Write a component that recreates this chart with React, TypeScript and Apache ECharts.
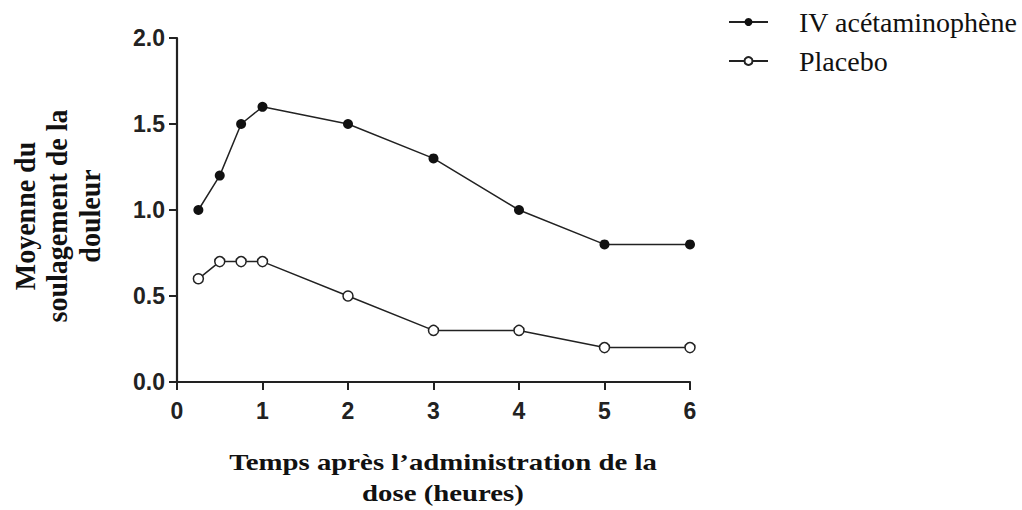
import React, { useEffect, useRef } from "react";
import * as echarts from "echarts";

const hours = [0.25, 0.5, 0.75, 1, 2, 3, 4, 5, 6];
const ivAcetaminophen = [1.0, 1.2, 1.5, 1.6, 1.5, 1.3, 1.0, 0.8, 0.8];
const placebo = [0.6, 0.7, 0.7, 0.7, 0.5, 0.3, 0.3, 0.2, 0.2];
const seriesNames = ["IV acétaminophène", "Placebo"];
const xTitle = "Temps après l’administration de la\ndose (heures)";
const yTitle = "Moyenne du\nsoulagement de la\ndouleur";

const SERIF = "'Liberation Serif', 'Times New Roman', serif";
const SANS = "'Liberation Sans', Arial, sans-serif";

export default function App() {
  const ref = useRef<HTMLDivElement>(null);
  useEffect(() => {
    const chart = echarts.init(ref.current!, null, { renderer: "svg" });
    const axisLabel = {
      fontFamily: SANS,
      fontWeight: "bold",
      fontSize: 23,
      color: "#222",
    };
    const axisLine = { show: true, lineStyle: { color: "#222", width: 2.2 } };
    const axisTick = { show: true, length: 8, lineStyle: { color: "#222", width: 2 } };
    chart.setOption({
      animation: false,
      backgroundColor: "#fff",
      grid: { left: 177, right: 332, top: 38, bottom: 128, containLabel: false },
      legend: {
        left: 723,
        top: 3,
        orient: "vertical",
        itemWidth: 39,
        itemHeight: 10,
        itemGap: 11,
        textStyle: {
          fontFamily: SERIF,
          fontSize: 28,
          lineHeight: 28,
          color: "#111",
          padding: [0, 0, 0, 26],
        },
        data: seriesNames,
      },
      xAxis: {
        type: "value",
        min: 0,
        max: 6,
        interval: 1,
        axisLine,
        axisTick,
        splitLine: { show: false },
        axisLabel: { ...axisLabel, margin: 17 },
      },
      yAxis: {
        type: "value",
        min: 0,
        max: 2,
        interval: 0.5,
        axisLine,
        axisTick,
        splitLine: { show: false },
        axisLabel: { ...axisLabel, margin: 12, formatter: (v: number) => v.toFixed(1) },
      },
      graphic: [
        {
          type: "text",
          x: 443,
          y: 477,
          scaleX: 1.2,
          style: {
            text: xTitle,
            fontFamily: SERIF,
            fontWeight: "bold",
            fontSize: 24,
            lineHeight: 31,
            fill: "#111",
            align: "center",
            verticalAlign: "middle",
          },
        },
        {
          type: "text",
          x: 57,
          y: 216,
          rotation: Math.PI / 2,
          scaleY: 1.05,
          style: {
            text: yTitle,
            fontFamily: SERIF,
            fontWeight: "bold",
            fontSize: 28,
            lineHeight: 31,
            fill: "#111",
            align: "center",
            verticalAlign: "middle",
          },
        },
      ],
      series: [
        {
          name: seriesNames[0],
          type: "line",
          data: hours.map((h, i) => [h, ivAcetaminophen[i]]),
          symbol: "circle",
          symbolSize: 10,
          showAllSymbol: true,
          itemStyle: { color: "#111" },
          lineStyle: { color: "#222", width: 1.5 },
        },
        {
          name: seriesNames[1],
          type: "line",
          data: hours.map((h, i) => [h, placebo[i]]),
          symbol: "circle",
          symbolSize: 10,
          showAllSymbol: true,
          itemStyle: { color: "#fff", borderColor: "#222", borderWidth: 1.5 },
          lineStyle: { color: "#222", width: 1.5 },
        },
      ],
    });
    return () => chart.dispose();
  }, []);
  return (
    <div
      ref={ref}
      style={{ position: "fixed", left: 0, top: 0, width: 1022, height: 510, background: "#fff" }}
    />
  );
}
